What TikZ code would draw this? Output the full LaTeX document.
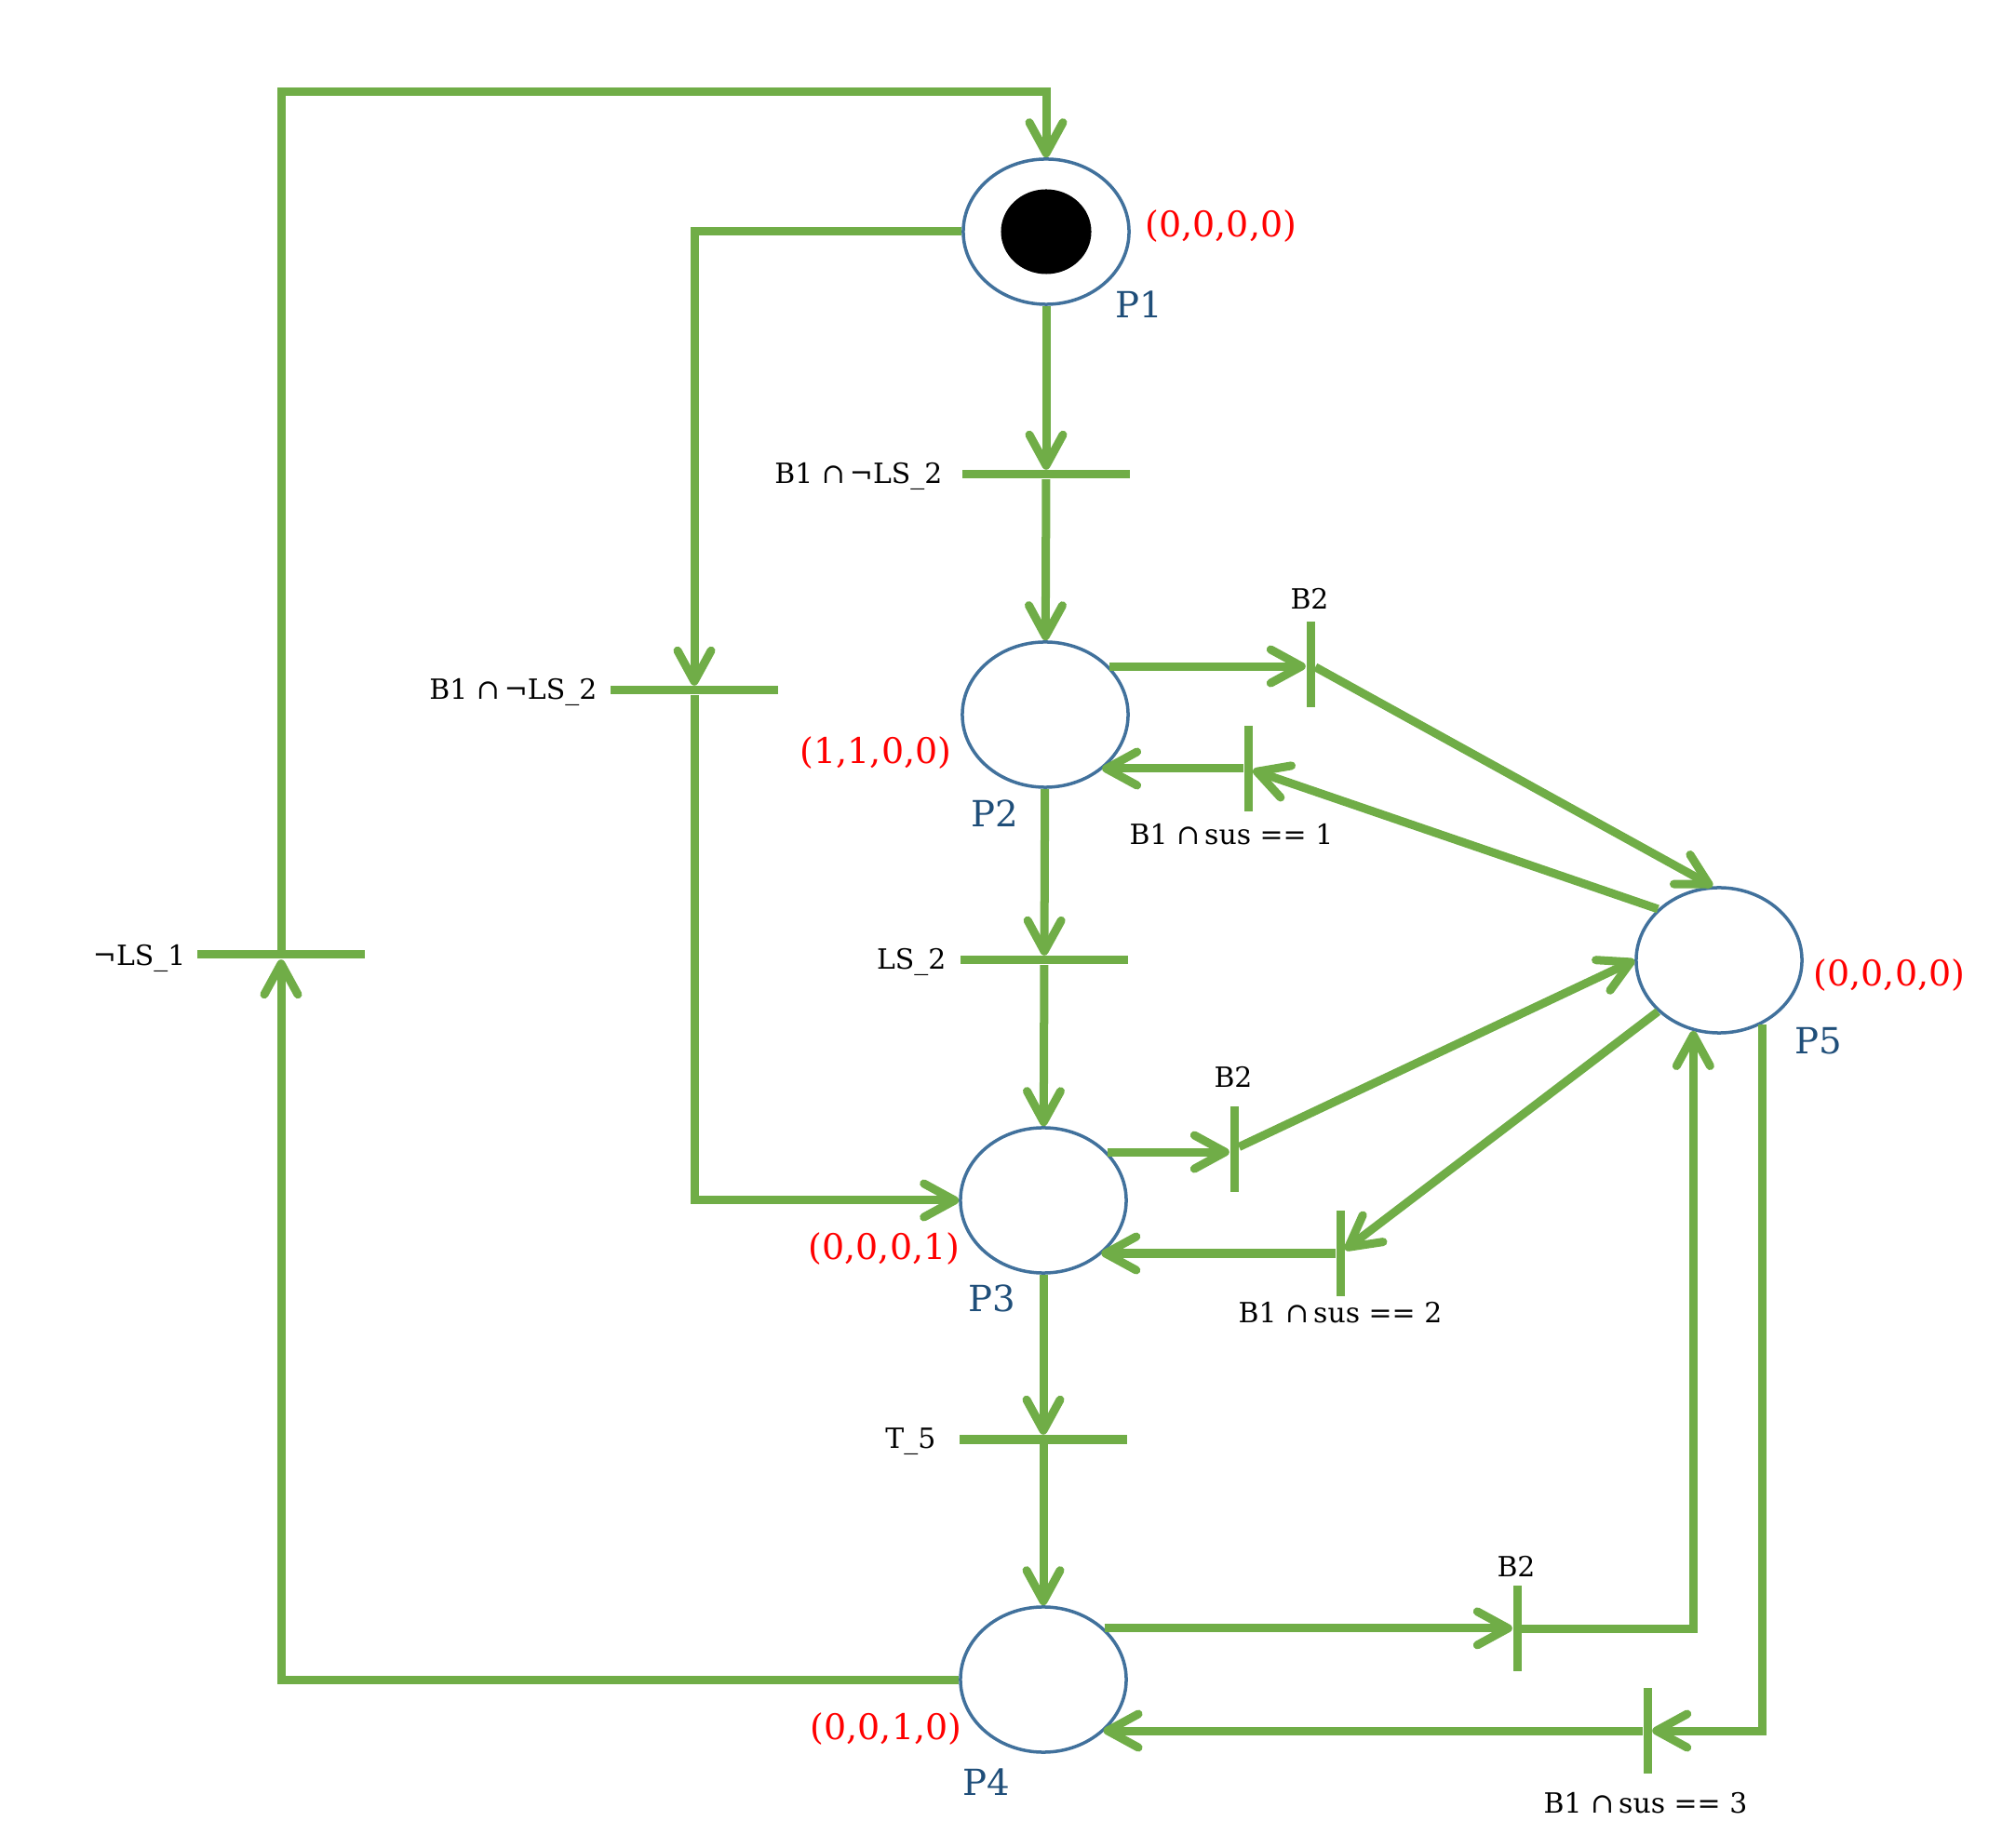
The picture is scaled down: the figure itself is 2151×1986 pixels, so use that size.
\documentclass[tikz,border=0pt]{standalone}
\usepackage{fontspec}
\setmainfont{DejaVu Serif}
\usetikzlibrary{shapes.geometric,arrows.meta}
\definecolor{pgreen}{HTML}{70AD47}
\definecolor{pblue}{HTML}{41719C}
\definecolor{ptext}{HTML}{1F4E79}
\begin{document}
\begin{tikzpicture}[x=0.01cm,y=-0.01cm,
  place/.style={ellipse,draw=pblue,line width=0.035cm,minimum width=1.78cm,minimum height=1.56cm,inner sep=0pt},
  token/.style={ellipse,fill=black,minimum width=0.97cm,minimum height=0.91cm,inner sep=0pt},
  htrans/.style={fill=pgreen,inner sep=0pt,minimum width=1.79cm,minimum height=0.09cm},
  vtrans/.style={fill=pgreen,inner sep=0pt,minimum width=0.09cm,minimum height=0.92cm},
  arc/.style={draw=pgreen,line width=0.09cm,-{Straight Barb[length=3.3mm,width=3.6mm,round]}},
  tlabel/.style={font=\fontsize{8.5}{10}\selectfont,inner sep=0pt},
  mlabel/.style={text=red,font=\fontsize{10.8}{13}\selectfont,inner sep=0pt},
  plabel/.style={text=ptext,font=\fontsize{11}{13}\selectfont,inner sep=0pt}]
\useasboundingbox (0,0) rectangle (2151,1986);
% places
\node[place] (p1) at (1124,249) {};
\node[token] (tok) at (1124,249) {};
\node[place] (p2) at (1123,768) {};
\node[place] (p3) at (1121,1290) {};
\node[place] (p4) at (1121,1805) {};
\node[place] (p5) at (1847,1032) {};
% transitions
\node[htrans] (t1) at (1124,510) {};
\node[htrans] (t2) at (746,742) {};
\node[htrans] (t3) at (1122,1032) {};
\node[htrans] (t4) at (1121,1547) {};
\node[htrans] (t5) at (302,1026) {};
\node[vtrans] (t6) at (1408,714) {};
\node[vtrans] (t7) at (1341,826) {};
\node[vtrans] (t8) at (1326,1235) {};
\node[vtrans] (t9) at (1440,1347) {};
\node[vtrans] (t10) at (1630,1750) {};
\node[vtrans] (t11) at (1770,1860) {};
\coordinate (topc) at (0,99);
% transition labels
\node[tlabel,anchor=base east] (l1) at (1013,520) {B1 ∩\,¬LS\_2};
\node[tlabel,anchor=base east] (l2) at (642,752) {B1 ∩\,¬LS\_2};
\node[tlabel,anchor=base east] (l3) at (1017,1042) {LS\_2};
\node[tlabel,anchor=base east] (l4) at (1006,1557) {T\_5};
\node[tlabel,anchor=base east] (l5) at (200,1038) {¬LS\_1};
\node[tlabel,anchor=base] (l6) at (1407,655) {B2};
\node[tlabel,anchor=base] (l7) at (1323,908) {B1 ∩\,sus == 1};
\node[tlabel,anchor=base] (l8) at (1325,1169) {B2};
\node[tlabel,anchor=base] (l9) at (1440,1422) {B1 ∩\,sus == 2};
\node[tlabel,anchor=base] (l10) at (1629,1694) {B2};
\node[tlabel,anchor=base] (l11) at (1768,1948) {B1 ∩\,sus == 3};
% markings
\node[mlabel,anchor=base west] (m1) at (1230,255) {(0,0,0,0)};
\node[mlabel,anchor=base east] (m2) at (1023,821) {(1,1,0,0)};
\node[mlabel,anchor=base east] (m3) at (1032,1354) {(0,0,0,1)};
\node[mlabel,anchor=base east] (m4) at (1034,1869) {(0,0,1,0)};
\node[mlabel,anchor=base west] (m5) at (1948,1060) {(0,0,0,0)};
% place names
\node[plabel,anchor=base west] (n1) at (1198,342) {P1};
\node[plabel,anchor=base] (n2) at (1069,889) {P2};
\node[plabel,anchor=base] (n3) at (1066,1410) {P3};
\node[plabel,anchor=base] (n4) at (1060,1929) {P4};
\node[plabel,anchor=base] (n5) at (1954,1133) {P5};
% arcs
\draw[arc] (p1) -- (t1);
\draw[arc] (t1) -- (p2);
\draw[arc] (p1.west) -| (t2);
\draw[arc] (t2) |- (p3.west);
\draw[arc] (p2) -- (t3);
\draw[arc] (t3) -- (p3);
\draw[arc] (p3) -- (t4);
\draw[arc] (t4) -- (p4);
\draw[arc] (p4.west) -| (t5);
\draw[arc] (t5) |- (p1.north |- topc) -- (p1.north);
\draw[arc] (p2.37) -- (p2.37 -| t6.west);
\draw[arc] (t6) -- (p5.95);
\draw[arc] (p5.140) -- (t7);
\draw[arc] (t7.west) -- (t7.west -| p2.-44);
\draw[arc] (p3.37) -- (p3.37 -| t8.west);
\draw[arc] (t8) -- (p5.west);
\draw[arc] (p5.220) -- (t9);
\draw[arc] (t9.west) -- (t9.west -| p3.-43);
\draw[arc] (p4.40) -- (p4.40 -| t10.west);
\draw[arc] (t10) -| (p5.-110);
\draw[arc] (p5.-56) |- (t11);
\draw[arc] (t11.west) -- (t11.west -| p4.-41);
\end{tikzpicture}
\end{document}
